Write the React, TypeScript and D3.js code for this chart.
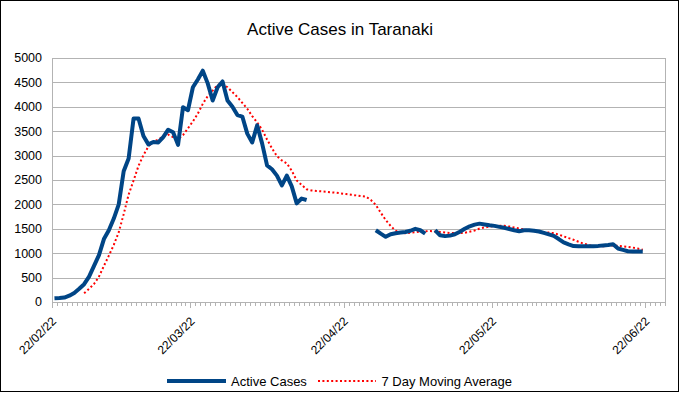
import * as d3 from "d3";

// Daily series, first value is 22 Feb 2022. null = no figure reported that day.
const startDay = "2022-02-22";
const axisEnd = "2022-06-26";
const labelDays = ["2022-02-22", "2022-03-22", "2022-04-22", "2022-05-22", "2022-06-22"];
const yTicks = [0, 500, 1000, 1500, 2000, 2500, 3000, 3500, 4000, 4500, 5000];

const activeCases: (number | null)[] = [
  75, 80, 92, 130, 185, 270, 365, 520, 740, 960,
  1290, 1470, 1710, 2000, 2680, 2940, 3760, 3760, 3400, 3230,
  3280, 3270, 3380, 3530, 3480, 3220, 3990, 3930, 4400, 4560,
  4740, 4480, 4130, 4400, 4520, 4130, 4000, 3830, 3800, 3450,
  3270, 3620, 3250, 2800, 2720, 2590, 2390, 2590, 2370, 2020,
  2120, 2090, null, null, null, null, null, null, null, null,
  null, null, null, null, null, 1470, 1400, 1335, 1390, 1410,
  1422, 1435, 1460, 1500, 1470, 1400, null, 1470, 1367, 1350,
  1360, 1388, 1440, 1500, 1551, 1585, 1606, 1590, 1572, 1560,
  1540, 1520, 1495, 1470, 1450, 1470, 1468, 1460, 1445, 1415,
  1385, 1354, 1290, 1220, 1180, 1145, 1143, 1143, 1143, 1143,
  1150, 1160, 1170, 1184, 1096, 1068, 1040, 1034, 1034, 1034,
];

const movingAverage: (number | null)[] = [
  null, null, null, null, null, null, 180, 270, 370, 520,
  740, 950, 1170, 1430, 1800, 2200, 2490, 2790, 3010, 3190,
  3280, 3330, 3390, 3430, 3380, 3340, 3420, 3560, 3700, 3860,
  4060, 4220, 4330, 4450, 4465, 4400, 4300, 4200, 4080, 3960,
  3810, 3680, 3530, 3330, 3150, 2990, 2900, 2840, 2690, 2490,
  2400, 2310, 2285, 2275, 2268, 2258, 2248, 2238, 2225, 2212,
  2198, 2185, 2170, 2160, 2090, 1990, 1830, 1680, 1560, 1460,
  1420, 1408, 1420, 1430, 1440, 1450, 1455, 1445, 1435, 1425,
  1415, 1413, 1410, 1420, 1440, 1465, 1505, 1528, 1545, 1555,
  1562, 1560, 1545, 1525, 1505, 1485, 1472, 1460, 1445, 1432,
  1422, 1412, 1380, 1345, 1310, 1275, 1235, 1197, 1170, 1145,
  1143, 1143, 1150, 1160, 1150, 1143, 1130, 1115, 1095, 1070,
];

const seriesNames = ["Active Cases", "7 Day Moving Average"];

const W = 680;
const H = 393;
const plot = { left: 52, right: 665, top: 58, bottom: 302 };
const font = "'Liberation Sans', Arial, sans-serif";
const gridColor = "#b3b3b3";
const blue = "#004586";
const red = "#ff0000";

type Pt = { date: Date; value: number | null };

export default function App() {
  const start = new Date(startDay + "T00:00:00Z");
  const end = new Date(axisEnd + "T00:00:00Z");

  const x = d3.scaleUtc().domain([start, end]).range([plot.left, plot.right]);
  const y = d3.scaleLinear().domain([0, 5000]).range([plot.bottom, plot.top]);

  const toPoints = (vals: (number | null)[]): Pt[] =>
    vals.map((v, i) => ({ date: d3.utcDay.offset(start, i), value: v }));

  // values are plotted mid-day
  const line = d3
    .line<Pt>()
    .defined((d) => d.value !== null)
    .x((d) => x(d3.utcHour.offset(d.date, 12)))
    .y((d) => y(d.value as number));

  const dayTicks = d3.utcDay.range(start, d3.utcDay.offset(end, 1));
  const labels = labelDays.map((s) => new Date(s + "T00:00:00Z"));
  const fmt = d3.utcFormat("%d/%m/%y");
  const crisp = (v: number) => Math.round(v) + 0.5;

  return (
    <>
      <style>{`body{margin:0}`}</style>
      <svg width={W} height={H} style={{ display: "block", fontFamily: font }}>
        <rect x={0} y={0} width={W} height={H} fill="#fff" />
        <rect x={0.5} y={0.5} width={678} height={391} fill="none" stroke="#000" />

        <text x={340} y={34.5} textAnchor="middle" fontSize={17} fill="#000">
          Active Cases in Taranaki
        </text>

        {/* horizontal grid + y labels */}
        {yTicks.map((t) => (
          <g key={t}>
            <line
              x1={plot.left}
              x2={plot.right}
              y1={crisp(y(t))}
              y2={crisp(y(t))}
              stroke={gridColor}
            />
            <text
              x={42}
              y={y(t)}
              dy="0.35em"
              textAnchor="end"
              fontSize={12.5}
              fill="#000"
            >
              {t}
            </text>
          </g>
        ))}

        {/* plot frame */}
        <line x1={crisp(plot.left)} x2={crisp(plot.left)} y1={plot.top} y2={plot.bottom + 4} stroke={gridColor} />
        <line x1={crisp(plot.right)} x2={crisp(plot.right)} y1={plot.top} y2={plot.bottom + 4} stroke={gridColor} />

        {/* daily ticks */}
        {dayTicks.map((d, i) => (
          <line
            key={i}
            x1={crisp(x(d))}
            x2={crisp(x(d))}
            y1={plot.bottom}
            y2={plot.bottom + 4}
            stroke={gridColor}
          />
        ))}
        {labels.map((d, i) => (
          <g key={i}>
            <line
              x1={crisp(x(d))}
              x2={crisp(x(d))}
              y1={plot.bottom}
              y2={plot.bottom + 6}
              stroke={gridColor}
            />
            <text
              transform={`translate(${x(d) + 5},322) rotate(-45)`}
              textAnchor="end"
              fontSize={12}
              fill="#000"
            >
              {fmt(d)}
            </text>
          </g>
        ))}

        {/* series */}
        <path
          d={line(toPoints(movingAverage)) ?? ""}
          fill="none"
          stroke={red}
          strokeWidth={2}
          strokeDasharray="2 2.4"
        />
        <path
          d={line(toPoints(activeCases)) ?? ""}
          fill="none"
          stroke={blue}
          strokeWidth={4}
          strokeLinejoin="round"
        />

        {/* legend */}
        <line x1={167} x2={226} y1={381} y2={381} stroke={blue} strokeWidth={4} />
        <text x={231} y={385.5} fontSize={13} fill="#000">
          {seriesNames[0]}
        </text>
        <line x1={318} x2={376} y1={381} y2={381} stroke={red} strokeWidth={2} strokeDasharray="2 2.4" />
        <text x={381.5} y={385.5} fontSize={13} fill="#000">
          {seriesNames[1]}
        </text>
      </svg>
    </>
  );
}
